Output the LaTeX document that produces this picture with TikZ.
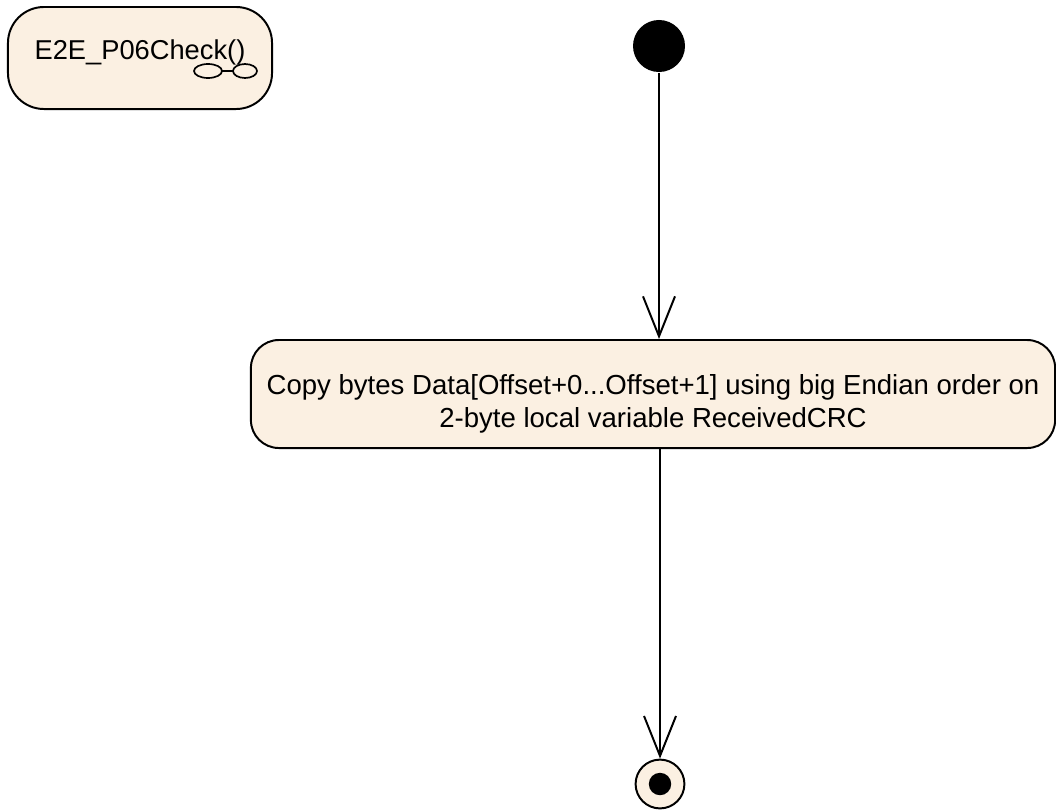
\documentclass[tikz,border=0pt]{standalone}
\usepackage{fontspec}
\setmainfont{Liberation Sans}
\usepackage{tikz}
\usetikzlibrary{arrows.meta,positioning,calc}
\definecolor{actfill}{HTML}{FBF0E2}

\begin{document}
\begin{tikzpicture}[
  x=0.025cm, y=-0.025cm,
  line width=1.4pt,
  act/.style={draw, fill=actfill, rounded corners=0.7cm, minimum width=20.1cm, minimum height=2.7cm, align=center, font=\fontsize{19.6}{23.5}\selectfont},
  fnbox/.style={draw, fill=actfill, rounded corners=0.9cm, minimum width=6.6cm, minimum height=2.55cm, text height=0.55cm, text depth=0.5cm, font=\fontsize{19.4}{22}\selectfont},
  initst/.style={circle, fill=black, inner sep=0pt, minimum size=1.3cm},
  finst/.style={circle, draw, fill=actfill, inner sep=0pt, minimum size=1.22cm,
    path picture={\fill[black] (path picture bounding box.center) circle (0.28cm);}},
  flow/.style={-{Straight Barb[length=1cm, width=0.8cm, line width=1.4pt]}}
]
\useasboundingbox (0,0) rectangle (1056,810);

\node[fnbox]  (fn)    at (140,58)  {E2E\_P06Check()};
\node[initst] (start) at (659,46)  {};
\node[act]    (copy)  at (653,394) {\rule{0pt}{0.98cm}Copy bytes Data[Offset+0...Offset+1] using big Endian order on\\2-byte local variable ReceivedCRC};
\node[finst]  (end)   at (660,784) {};

% call behaviour icon
\draw[line width=1.2pt] (208,71) ellipse (14 and 7);
\draw[line width=1.2pt] (245,71) ellipse (12 and 7);
\draw[line width=1.2pt] (222,71) -- (233,71);

\draw[flow] (start) -- (start |- copy.north);
\draw[flow] (copy.south -| end) -- (end);

\end{tikzpicture}
\end{document}
